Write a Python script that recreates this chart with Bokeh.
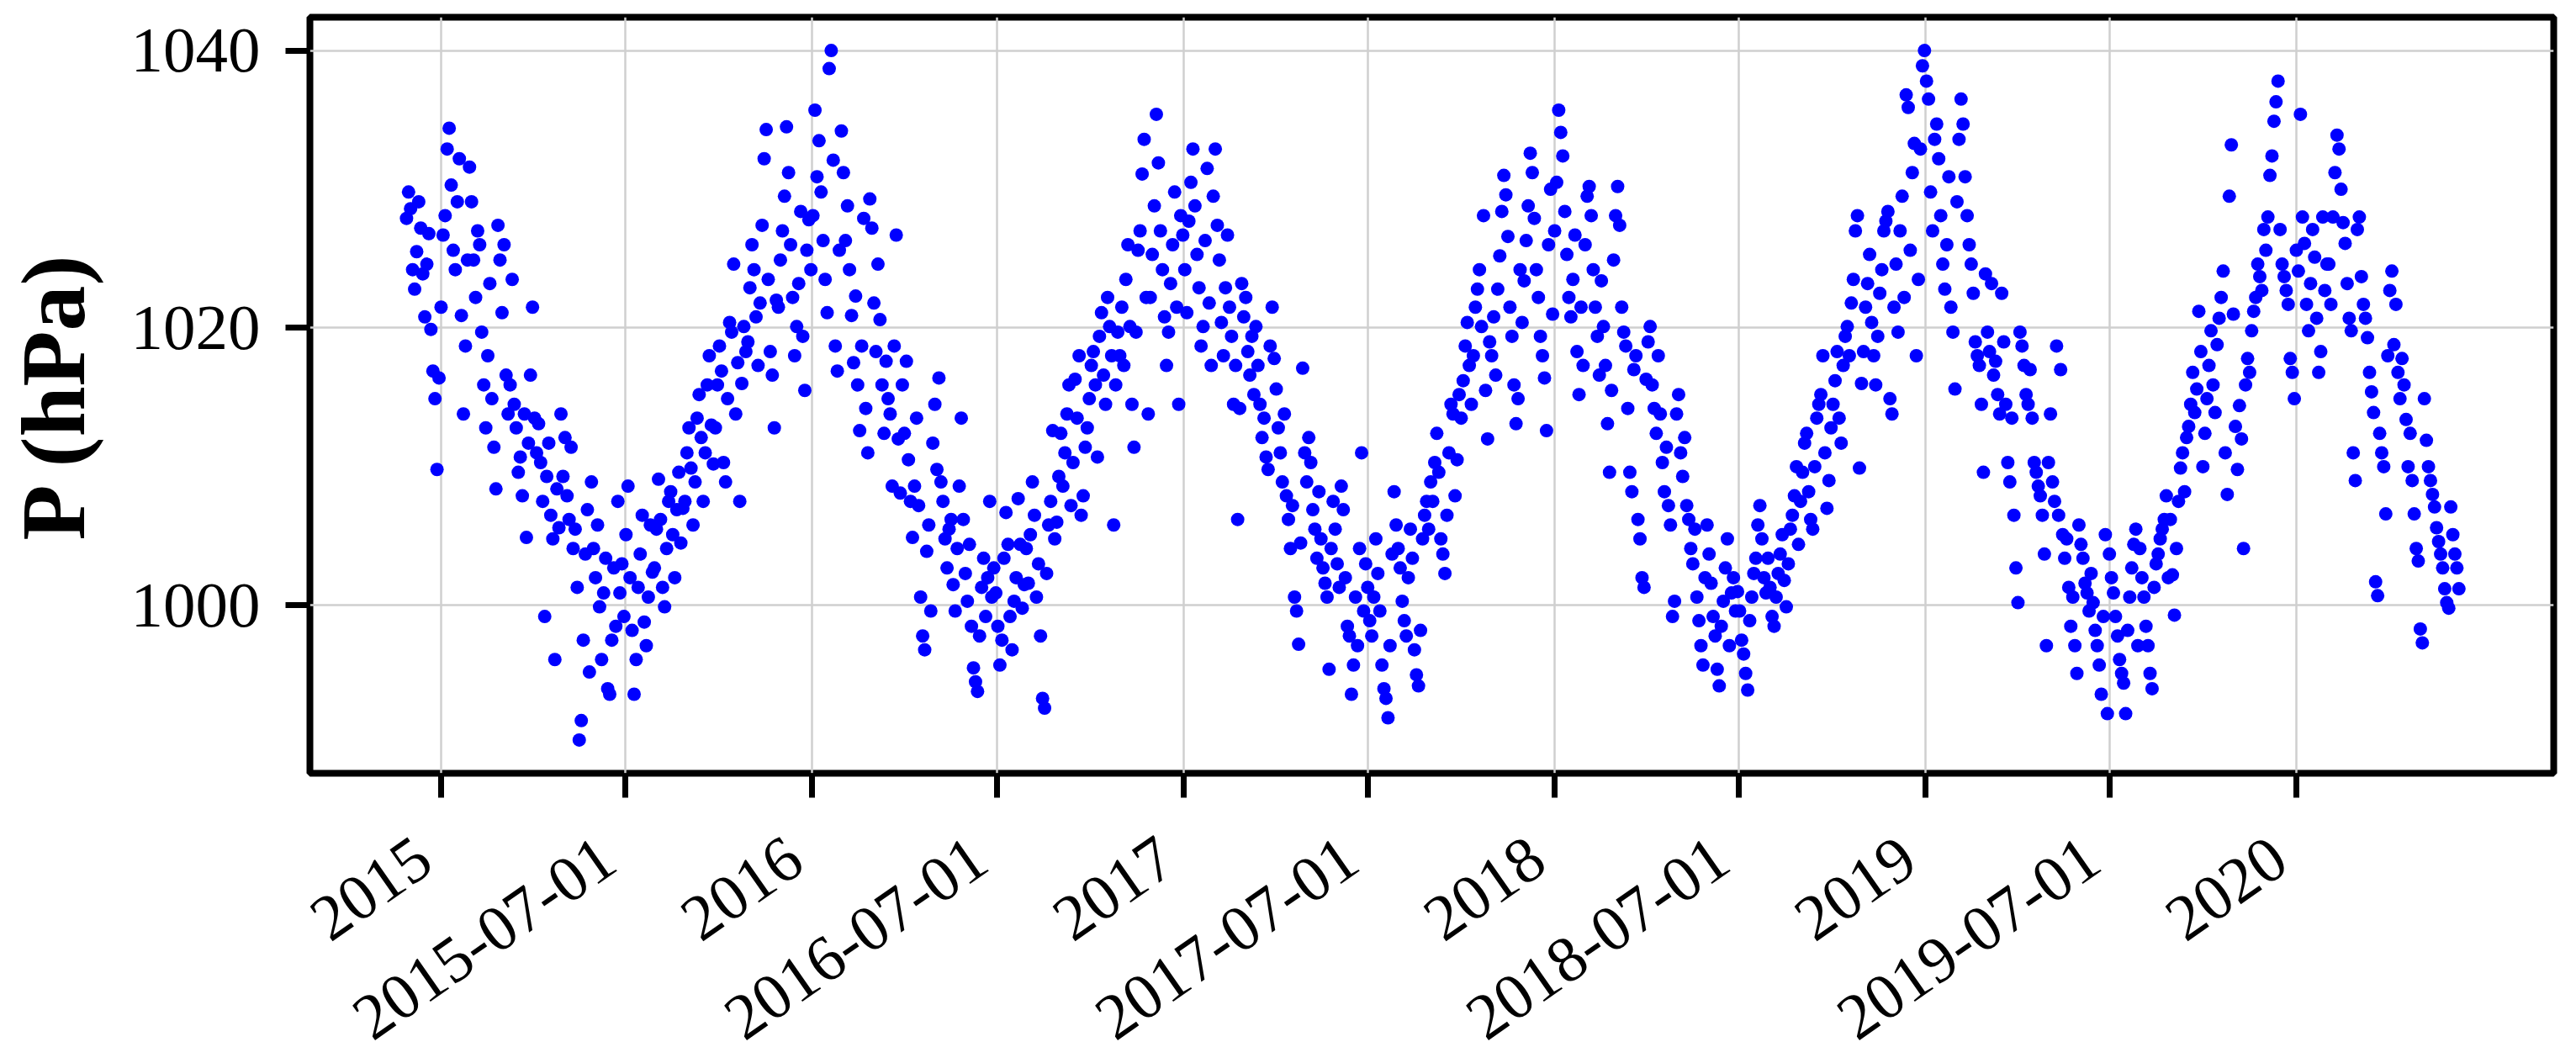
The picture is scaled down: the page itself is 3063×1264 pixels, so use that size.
import math
import pandas as pd
from bokeh.plotting import figure
from bokeh.layouts import column
from bokeh.models import FixedTicker, Range1d, ColumnDataSource
from bokeh.core.properties import value
from bokeh.embed import file_html
from bokeh.resources import INLINE

# ---- data ----
first_day = "2014-11-28"
step_days = 2
pressure_hpa = [
    # Dec 2014
    1027.9, 1029.8, 1028.6, 1024.2, 1022.8, 1025.5, 1029.1, 1027.2, 1023.9, 1020.8, 1024.6, 1026.8, 1019.9, 1016.9, 1014.9, 1009.8,
    # Jan 2015
    1016.4, 1021.5, 1026.7, 1028.1, 1032.9, 1034.4, 1030.3, 1025.6, 1024.2, 1029.1, 1032.2, 1020.9, 1013.8, 1018.7, 1024.9,
    # Feb 2015
    1031.6, 1029.1, 1024.9, 1022.2, 1027.0, 1026.0, 1019.7, 1015.9, 1012.8, 1018.0, 1023.2, 1014.9, 1011.4, 1008.4,
    # Mar 2015
    1027.4, 1024.9, 1021.1, 1026.0, 1016.6, 1013.8, 1015.9, 1023.5, 1014.5, 1012.8, 1009.6, 1010.7, 1007.9, 1013.8, 1004.9, 1011.7,
    # Apr 2015
    1016.6, 1021.5, 1013.5, 1011.0, 1013.1, 1010.3, 1007.5, 999.2, 1009.3, 1011.7, 1006.5, 1004.8, 996.1, 1008.4, 1005.6,
    # May 2015
    1013.8, 1009.3, 1012.1, 1007.9, 1006.2, 1011.4, 1004.1, 1005.5, 1001.3, 990.3, 991.7, 997.5, 1003.7, 1006.9, 995.2,
    # Jun 2015
    1008.9, 1004.1, 1002.0, 1005.8, 999.9, 996.1, 1000.9, 1003.4, 994.0, 993.6, 997.5, 1002.7, 998.5, 1007.5, 1000.9,
    # Jul 2015
    1003.0, 999.2, 1005.1, 1008.6, 1002.0, 998.2, 993.6, 996.1, 1001.3, 1003.7, 1006.5, 998.8, 997.1, 1000.6, 1005.8, 1002.4,
    # Aug 2015
    1002.7, 1005.5, 1009.1, 1006.2, 1001.3, 999.9, 1004.1, 1007.5, 1008.2, 1005.1, 1002.0, 1006.9, 1009.6, 1004.5, 1007.0,
    # Sep 2015
    1007.5, 1011.0, 1012.8, 1009.9, 1005.8, 1008.9, 1013.5, 1015.2, 1012.1, 1007.5, 1011.0, 1015.9, 1018.0, 1013.0, 1010.2,
    # Oct 2015
    1012.8, 1015.9, 1018.7, 1016.9, 1010.3, 1008.9, 1014.9, 1020.4, 1019.7, 1024.6, 1013.8, 1017.5, 1007.5, 1016.0, 1020.1, 1018.3,
    # Nov 2015
    1019.0, 1022.9, 1026.0, 1024.2, 1020.8, 1017.3, 1021.8, 1027.4, 1032.2, 1034.3, 1023.5, 1018.3, 1016.6, 1012.8, 1022.0,
    # Dec 2015
    1021.5, 1024.9, 1027.0, 1029.5, 1034.5, 1031.2, 1026.0, 1022.2, 1018.0, 1020.1, 1023.2, 1028.4, 1019.4, 1015.5, 1025.6, 1027.8,
    # Jan 2016
    1024.2, 1028.1, 1035.7, 1030.9, 1033.5, 1029.8, 1026.3, 1023.5, 1021.1, 1038.7, 1040.0, 1032.1, 1018.7, 1016.9, 1025.6,
    # Feb 2016
    1034.2, 1031.2, 1026.3, 1028.8, 1024.2, 1020.9, 1017.5, 1022.3, 1015.9, 1012.6, 1018.7, 1027.9, 1014.2, 1011.0,
    # Mar 2016
    1029.3, 1027.2, 1021.8, 1018.3, 1024.6, 1020.6, 1015.9, 1012.4, 1017.6, 1014.9, 1013.8, 1008.6, 1018.7, 1026.7, 1012.0, 1008.1,
    # Apr 2016
    1015.9, 1012.4, 1017.6, 1010.5, 1007.5, 1004.9, 1008.6, 1013.5, 1007.2, 1000.6, 997.8, 996.8, 1003.9, 1005.8, 999.6,
    # May 2016
    1011.7, 1014.5, 1009.8, 1016.4, 1008.9, 1007.5, 1004.8, 1002.7, 1005.5, 1006.2, 1001.5, 999.6, 1004.1, 1008.6, 1013.5,
    # Jun 2016
    1006.2, 1002.3, 1000.3, 1004.4, 998.5, 995.5, 994.5, 993.8, 997.8, 1001.3, 1003.4, 999.2, 1002.0, 1007.5, 1000.6,
    # Jul 2016
    1002.7, 1000.9, 998.5, 995.7, 997.5, 1003.4, 1006.7, 1004.4, 999.2, 996.8, 1000.3, 1002.0, 1007.7, 1004.4, 999.8, 1001.5,
    # Aug 2016
    1004.1, 1001.6, 1005.1, 1008.9, 1006.5, 1000.6, 1003.0, 997.8, 993.3, 992.6, 1002.3, 1005.8, 1007.5, 1012.6, 1004.8,
    # Sep 2016
    1006.0, 1009.3, 1012.4, 1008.6, 1011.0, 1013.8, 1015.9, 1007.2, 1010.3, 1016.3, 1013.5, 1018.0, 1006.5, 1007.9, 1011.4,
    # Oct 2016
    1012.8, 1014.9, 1017.3, 1018.3, 1015.9, 1010.7, 1019.4, 1021.1, 1016.6, 1014.5, 1022.2, 1020.1, 1018.0, 1005.8, 1015.9, 1019.7,
    # Nov 2016
    1018.0, 1021.5, 1017.3, 1023.5, 1026.0, 1020.1, 1014.5, 1011.4, 1019.7, 1025.6, 1027.0, 1031.1, 1033.6, 1022.2, 1013.8,
    # Dec 2016
    1022.2, 1025.3, 1028.8, 1035.4, 1031.9, 1027.0, 1024.2, 1020.8, 1017.3, 1019.7, 1023.2, 1026.0, 1029.8, 1021.5, 1014.5, 1028.1,
    # Jan 2017
    1026.7, 1024.2, 1021.1, 1027.7, 1030.5, 1032.9, 1028.8, 1025.3, 1022.9, 1018.7, 1020.1, 1026.3, 1031.5, 1021.8, 1017.3,
    # Feb 2017
    1029.5, 1032.9, 1027.4, 1024.9, 1020.4, 1018.0, 1022.9, 1026.7, 1021.5, 1019.4, 1014.5, 1017.3, 1006.2, 1014.2,
    # Mar 2017
    1023.2, 1020.8, 1022.2, 1018.3, 1016.6, 1019.4, 1015.2, 1020.1, 1017.3, 1014.5, 1012.1, 1013.5, 1010.7, 1009.8, 1018.7, 1021.5,
    # Apr 2017
    1017.8, 1015.6, 1012.8, 1011.0, 1008.9, 1013.8, 1007.9, 1006.2, 1004.1, 1007.2, 1000.6, 999.6, 997.2, 1004.5, 1017.1,
    # May 2017
    1011.0, 1008.9, 1012.1, 1010.3, 1006.9, 1005.5, 1003.4, 1008.2, 1004.8, 1002.7, 1001.6, 1000.6, 995.4, 1004.1, 1007.5,
    # Jun 2017
    1005.5, 1003.0, 1001.3, 1008.6, 1006.9, 1002.0, 998.5, 997.8, 993.6, 995.7, 1000.6, 997.1, 1004.1, 1011.0, 999.6,
    # Jul 2017
    1003.0, 1001.3, 998.9, 997.8, 1000.6, 1004.8, 1002.3, 999.6, 995.7, 994.0, 993.3, 991.9, 997.1, 1003.7, 1008.2, 1005.8,
    # Aug 2017
    1004.1, 1002.7, 1000.3, 998.9, 997.8, 1002.0, 1005.5, 1003.4, 996.8, 995.0, 994.2, 998.2, 1004.8, 1006.5, 1007.5,
    # Sep 2017
    1005.5, 1008.9, 1007.5, 1010.3, 1012.4, 1009.6, 1004.8, 1003.7, 1002.3, 1006.5, 1011.0, 1014.5, 1013.8, 1007.9, 1010.5,
    # Oct 2017
    1015.2, 1013.5, 1016.2, 1018.7, 1020.4, 1017.3, 1014.5, 1018.0, 1021.5, 1022.8, 1024.2, 1020.1, 1028.1, 1015.5, 1012.0, 1019.0,
    # Nov 2017
    1018.0, 1020.8, 1016.6, 1022.8, 1025.2, 1028.4, 1031.0, 1029.6, 1026.6, 1021.5, 1019.4, 1015.9, 1013.1, 1014.9, 1024.2,
    # Dec 2017
    1020.4, 1023.4, 1026.3, 1028.8, 1032.6, 1031.2, 1027.9, 1024.2, 1022.2, 1019.4, 1018.0, 1016.4, 1012.6, 1026.0, 1030.0, 1021.0,
    # Jan 2018
    1027.0, 1030.5, 1035.7, 1034.1, 1032.4, 1028.4, 1025.3, 1022.2, 1020.8, 1023.5, 1026.7, 1018.3, 1015.2, 1021.5, 1017.3,
    # Feb 2018
    1026.0, 1029.5, 1030.2, 1028.1, 1024.2, 1021.5, 1019.4, 1016.6, 1023.4, 1020.1, 1017.3, 1013.1, 1009.6, 1015.5,
    # Mar 2018
    1024.9, 1028.1, 1030.2, 1027.4, 1021.5, 1019.7, 1018.7, 1014.2, 1009.6, 1008.2, 1017.0, 1018.0, 1006.2, 1004.8, 1002.0, 1001.3,
    # Apr 2018
    1016.3, 1019.0, 1020.1, 1015.9, 1014.2, 1012.4, 1018.0, 1013.8, 1010.3, 1008.2, 1011.4, 1007.2, 1005.8, 999.2, 1000.3,
    # May 2018
    1013.8, 1015.2, 1011.0, 1009.3, 1012.1, 1007.2, 1006.2, 1004.1, 1003.0, 1005.5, 1000.6, 998.9, 997.1, 995.7, 1002.0,
    # Jun 2018
    1005.8, 1003.7, 1001.6, 999.2, 997.8, 995.4, 994.2, 998.5, 1000.3, 1002.7, 1004.8, 997.1, 1000.9, 1002.0, 999.6,
    # Jul 2018
    1001.0, 999.6, 997.5, 996.5, 995.1, 993.9, 998.9, 1000.6, 1002.3, 1003.4, 1005.8, 1007.2, 1004.8, 1002.0, 1000.9, 1003.4,
    # Aug 2018
    1001.3, 999.2, 998.5, 1000.6, 1002.3, 1003.7, 1005.1, 1001.8, 999.9, 1003.0, 1005.5, 1006.5, 1007.9, 1010.0, 1004.4,
    # Sep 2018
    1007.5, 1009.6, 1011.7, 1012.4, 1008.2, 1006.2, 1005.5, 1010.0, 1013.5, 1014.5, 1015.2, 1018.0, 1011.0, 1007.0, 1009.0,
    # Oct 2018
    1012.8, 1014.5, 1016.2, 1018.3, 1013.5, 1011.7, 1017.3, 1019.4, 1020.1, 1018.0, 1021.8, 1023.5, 1027.0, 1028.1, 1009.9, 1016.0,
    # Nov 2018
    1018.3, 1021.5, 1023.2, 1025.3, 1020.4, 1018.0, 1015.9, 1019.4, 1022.5, 1024.2, 1027.0, 1027.7, 1028.4, 1014.9, 1013.8,
    # Dec 2018
    1021.5, 1024.6, 1019.7, 1027.0, 1029.5, 1022.2, 1036.8, 1035.9, 1025.6, 1031.2, 1033.3, 1018.0, 1023.5, 1032.9, 1038.9, 1040.0,
    # Jan 2019
    1037.8, 1036.5, 1029.8, 1027.0, 1033.6, 1034.7, 1032.2, 1028.1, 1024.6, 1022.8, 1026.0, 1030.9, 1021.5, 1019.7, 1015.6,
    # Feb 2019
    1029.1, 1033.6, 1036.5, 1034.7, 1030.9, 1028.1, 1026.0, 1024.6, 1022.5, 1019.0, 1018.0, 1017.3, 1014.5, 1009.6,
    # Mar 2019
    1023.9, 1019.7, 1018.3, 1023.2, 1016.6, 1017.6, 1015.2, 1013.8, 1022.5, 1019.0, 1014.5, 1010.3, 1008.9, 1013.5, 1006.5, 1002.7,
    # Apr 2019
    1000.2, 1019.7, 1018.7, 1017.3, 1015.2, 1014.5, 1017.0, 1013.5, 1010.3, 1009.6, 1008.6, 1007.9, 1006.5, 1003.7, 997.1,
    # May 2019
    1010.3, 1013.8, 1008.9, 1007.5, 1018.7, 1006.5, 1017.0, 1005.1, 1003.4, 1004.8, 1001.3, 998.5, 1000.6, 997.1, 995.1,
    # Jun 2019
    1005.8, 1004.4, 1003.4, 1001.6, 1000.9, 999.6, 1002.3, 1000.2, 998.2, 997.1, 995.7, 993.6, 999.2, 1005.1, 992.2,
    # Jul 2019
    1003.7, 1002.0, 1000.9, 999.2, 997.8, 996.1, 995.1, 994.4, 992.2, 998.2, 1000.6, 1002.7, 1004.4, 1005.5, 997.1, 1004.1,
    # Aug 2019
    1002.0, 1000.6, 998.5, 997.1, 995.1, 994.0, 1001.3, 1003.0, 1003.7, 1004.8, 1005.5, 1006.2, 1007.9, 1002.0, 1006.2,
    # Sep 2019
    1002.2, 999.3, 1004.1, 1007.5, 1009.9, 1011.0, 1008.2, 1012.1, 1012.9, 1014.5, 1016.8, 1013.9, 1015.6, 1021.2, 1018.3,
    # Oct 2019
    1010.0, 1012.4, 1014.9, 1017.3, 1019.8, 1015.9, 1013.9, 1018.8, 1020.7, 1022.2, 1024.1, 1011.0, 1008.0, 1029.5, 1033.2, 1021.0,
    # Nov 2019
    1012.9, 1009.8, 1014.4, 1012.0, 1004.1, 1015.9, 1017.8, 1016.8, 1019.8, 1021.2, 1022.2, 1024.6, 1023.7, 1022.7, 1027.1,
    # Dec 2019
    1025.6, 1028.0, 1031.0, 1032.4, 1034.9, 1036.3, 1037.8, 1027.1, 1024.6, 1023.7, 1022.7, 1021.7, 1017.8, 1016.8, 1014.9, 1025.6,
    # Jan 2020
    1024.1, 1035.4, 1028.0, 1026.1, 1021.7, 1019.8, 1023.2, 1027.1, 1025.1, 1020.7, 1016.8, 1018.3, 1028.0, 1022.7, 1024.6,
    # Feb 2020
    1024.6, 1021.7, 1028.0, 1031.2, 1033.9, 1032.9, 1030.0, 1027.6, 1026.1, 1023.2, 1020.7, 1019.8, 1011.0, 1009.0,
    # Mar 2020
    1027.1, 1028.0, 1023.7, 1021.7, 1020.7, 1019.3, 1016.8, 1015.4, 1013.9, 1001.7, 1000.7, 1012.4, 1011.0, 1010.0, 1006.6, 1018.0,
    # Apr 2020
    1022.7, 1024.1, 1018.8, 1021.7, 1016.8, 1014.9, 1017.8, 1015.9, 1013.4, 1010.0, 1012.4, 1009.0, 1006.6, 1004.1, 1003.2,
    # May 2020
    998.3, 997.3, 1014.9, 1011.9, 1010.0, 1009.0, 1008.0, 1007.1, 1005.6, 1004.6, 1003.7, 1002.7, 1001.2, 1000.2, 999.8,
    # Jun 2020
    1007.1, 1005.1, 1003.7, 1002.7, 1001.2,
]

tick_dates = ["2015-01-01", "2015-07-01", "2016-01-01", "2016-07-01", "2017-01-01", "2017-07-01",
              "2018-01-01", "2018-07-01", "2019-01-01", "2019-07-01", "2020-01-01"]
tick_labels = ["2015", "2015-07-01", "2016", "2016-07-01", "2017", "2017-07-01",
               "2018", "2018-07-01", "2019", "2019-07-01", "2020"]
y_ticks = [1000, 1020, 1040]
y_label = "P (hPa)"

# ---- build ----
dates = pd.date_range(first_day, periods=len(pressure_hpa), freq=f"{step_days}D")
tick_ms = [int(pd.Timestamp(d).value // 10**6) for d in tick_dates]

FONT = "Liberation Serif"
W = 3050
MAIN_H = 960
LAB_H = 288
BL, BR = 368, 14

x_range = Range1d(pd.Timestamp("2014-08-24 22:00"), pd.Timestamp("2020-09-10 07:00"))

p = figure(
    width=W, height=MAIN_H,
    x_axis_type="datetime",
    output_backend="svg", toolbar_location=None,
    x_range=x_range,
    y_range=Range1d(987.9, 1042.4),
    min_border_left=BL, min_border_right=BR, min_border_top=20, min_border_bottom=41,
)
p.background_fill_color = "white"
p.border_fill_color = "white"
p.outline_line_color = "black"
p.outline_line_width = 8

p.scatter(x=dates, y=pressure_hpa, size=16, marker="circle",
          fill_color="#0000ff", line_color=None)

xt = FixedTicker(ticks=tick_ms)
yt = FixedTicker(ticks=y_ticks)
p.xaxis.ticker = xt
p.xgrid.ticker = xt
p.yaxis.ticker = yt
p.ygrid.ticker = yt
# the x tick texts are drawn (rotated, right-aligned) in the strip below
p.xaxis.major_label_overrides = {ms: "" for ms in tick_ms}
p.xaxis.major_label_text_font_size = "0px"
p.xaxis.major_label_standoff = 0

for ax in (p.xaxis[0], p.yaxis[0]):
    ax.axis_line_color = None
    ax.major_tick_line_color = "black"
    ax.major_tick_line_width = 7
    ax.major_tick_out = 29
    ax.major_tick_in = 0
    ax.minor_tick_line_color = None
p.yaxis.major_label_text_font = FONT
p.yaxis.major_label_text_font_size = "77px"
p.yaxis.major_label_text_color = "black"
p.yaxis.major_label_standoff = 30

p.yaxis.axis_label = y_label
p.yaxis.axis_label_text_font = FONT
p.yaxis.axis_label_text_font_size = "108px"
p.yaxis.axis_label_text_font_style = "bold"
p.yaxis.axis_label_text_color = "black"
p.yaxis.axis_label_standoff = 30

p.grid.grid_line_color = "#cfcfcf"
p.grid.grid_line_width = 2.5

# strip holding the rotated date labels, sharing the x scale
q = figure(
    width=W, height=LAB_H,
    x_axis_type="datetime", x_axis_location=None, y_axis_location=None,
    output_backend="svg", toolbar_location=None,
    x_range=x_range, y_range=Range1d(0, LAB_H),
    min_border_left=BL, min_border_right=BR, min_border_top=0, min_border_bottom=0,
)
q.outline_line_color = None
q.grid.visible = False
q.background_fill_color = "white"
q.border_fill_color = "white"
lab_src = ColumnDataSource(dict(x=tick_ms, y=[LAB_H - 52] * len(tick_ms), text=tick_labels))
q.text(x="x", y="y", text="text", source=lab_src,
       angle=math.radians(35), x_offset=-20,
       text_align="right", text_baseline="alphabetic",
       text_font=value(FONT), text_font_size=value("77px"), text_color="black")

layout = column(p, q, spacing=0)
open("out.html", "w").write(file_html(layout, INLINE))
